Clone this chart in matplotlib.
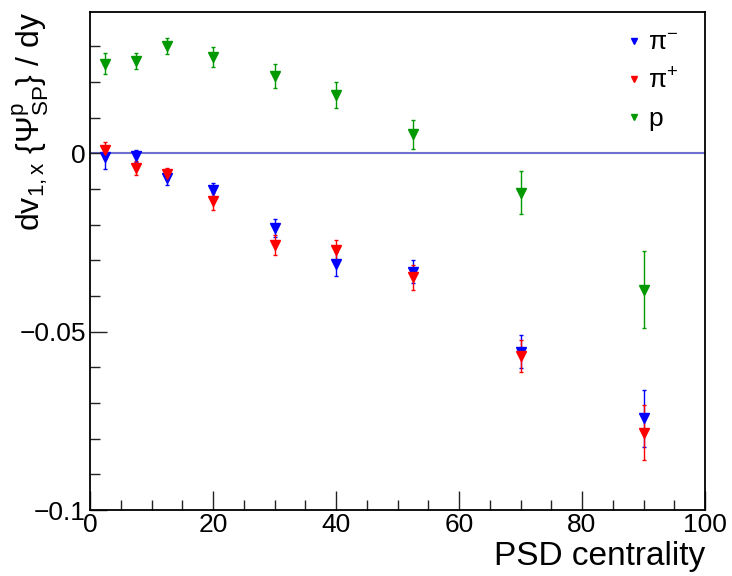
import matplotlib
matplotlib.use("Agg")
import matplotlib.pyplot as plt
from matplotlib.lines import Line2D
from matplotlib.ticker import MultipleLocator, FixedLocator, FixedFormatter

plt.rcParams['font.family'] = ['Liberation Sans', 'DejaVu Sans']
plt.rcParams['mathtext.fontset'] = 'custom'
plt.rcParams['mathtext.rm'] = 'Liberation Sans'
plt.rcParams['mathtext.it'] = 'Liberation Sans:italic'
plt.rcParams['mathtext.sf'] = 'Liberation Sans'

# centrality bin centres (%)
centrality = [2.5, 7.5, 12.5, 20, 30, 40, 52.5, 70, 90]

# pi-minus
pim_val = [-0.0011, -0.0007, -0.0070, -0.0102, -0.0210, -0.0311, -0.0332, -0.0556, -0.0743]
pim_err = [0.0032, 0.0017, 0.0020, 0.0019, 0.0025, 0.0033, 0.0033, 0.0047, 0.0080]

# pi-plus
pip_val = [0.0008, -0.0041, -0.0058, -0.0135, -0.0256, -0.0272, -0.0347, -0.0568, -0.0783]
pip_err = [0.0024, 0.0020, 0.0017, 0.0025, 0.0028, 0.0030, 0.0035, 0.0045, 0.0077]

# protons
p_val = [0.0251, 0.0258, 0.0300, 0.0270, 0.0217, 0.0163, 0.0053, -0.0110, -0.0383]
p_err = [0.0030, 0.0023, 0.0023, 0.0029, 0.0033, 0.0037, 0.0040, 0.0060, 0.0108]

series = [
    (pim_val, pim_err, '#0000ff', r'$\mathregular{\pi^{-}}$'),
    (pip_val, pip_err, '#ff0000', r'$\mathregular{\pi^{+}}$'),
    (p_val, p_err, '#009900', 'p'),
]

fig = plt.figure(figsize=(7.32, 5.76), dpi=100)
ax = fig.add_axes([90/732, 1 - 510/576, 615/732, 498/576])

ax.axhline(0, color='#6f6fcf', lw=1.5, zorder=1)

handles = []
for vals, errs, col, lab in series:
    ax.errorbar(centrality, vals, yerr=errs, fmt='v', color=col, ms=7,
                elinewidth=1.0, capsize=1.2, capthick=1.0, zorder=3)
    handles.append(Line2D([], [], marker='v', ls='none', color=col, ms=5, label=lab))

ax.set_xlim(0, 100)
ax.set_ylim(-0.1, 0.0396)

ax.xaxis.set_major_locator(MultipleLocator(20))
ax.xaxis.set_minor_locator(MultipleLocator(5))
ax.yaxis.set_major_locator(FixedLocator([-0.1, -0.05, 0]))
ax.yaxis.set_major_formatter(FixedFormatter(['\u22120.1', '\u22120.05', '0']))
ax.yaxis.set_minor_locator(MultipleLocator(0.01))

ax.tick_params(which='both', direction='in', top=False, right=False,
               labelsize=19, width=1.0, color='#222222')
ax.tick_params(axis='x', which='major', length=14, pad=2.5)
ax.tick_params(axis='x', which='minor', length=7)
ax.tick_params(axis='y', which='major', length=12, pad=3)
ax.tick_params(axis='y', which='minor', length=7)
for sp in ax.spines.values():
    sp.set_linewidth(1.3)

fig.text(705/732, 1 - 565/576, 'PSD centrality', ha='right', va='baseline', fontsize=24)
fig.text(31/732, 1 - 12/576,
         r'$\mathregular{dv_{1,x}\ \{\Psi^{p}_{SP}\}\ /\ dy}$',
         rotation=90, ha='center', va='top', fontsize=23)

ax.legend(handles=handles, loc='upper left', bbox_to_anchor=(614/732, 1 - 18/576),
          bbox_transform=fig.transFigure, frameon=False, fontsize=19,
          handlelength=0.5, handletextpad=0.3, labelspacing=0.5, borderpad=0)

fig.savefig('out.png', dpi=100)
